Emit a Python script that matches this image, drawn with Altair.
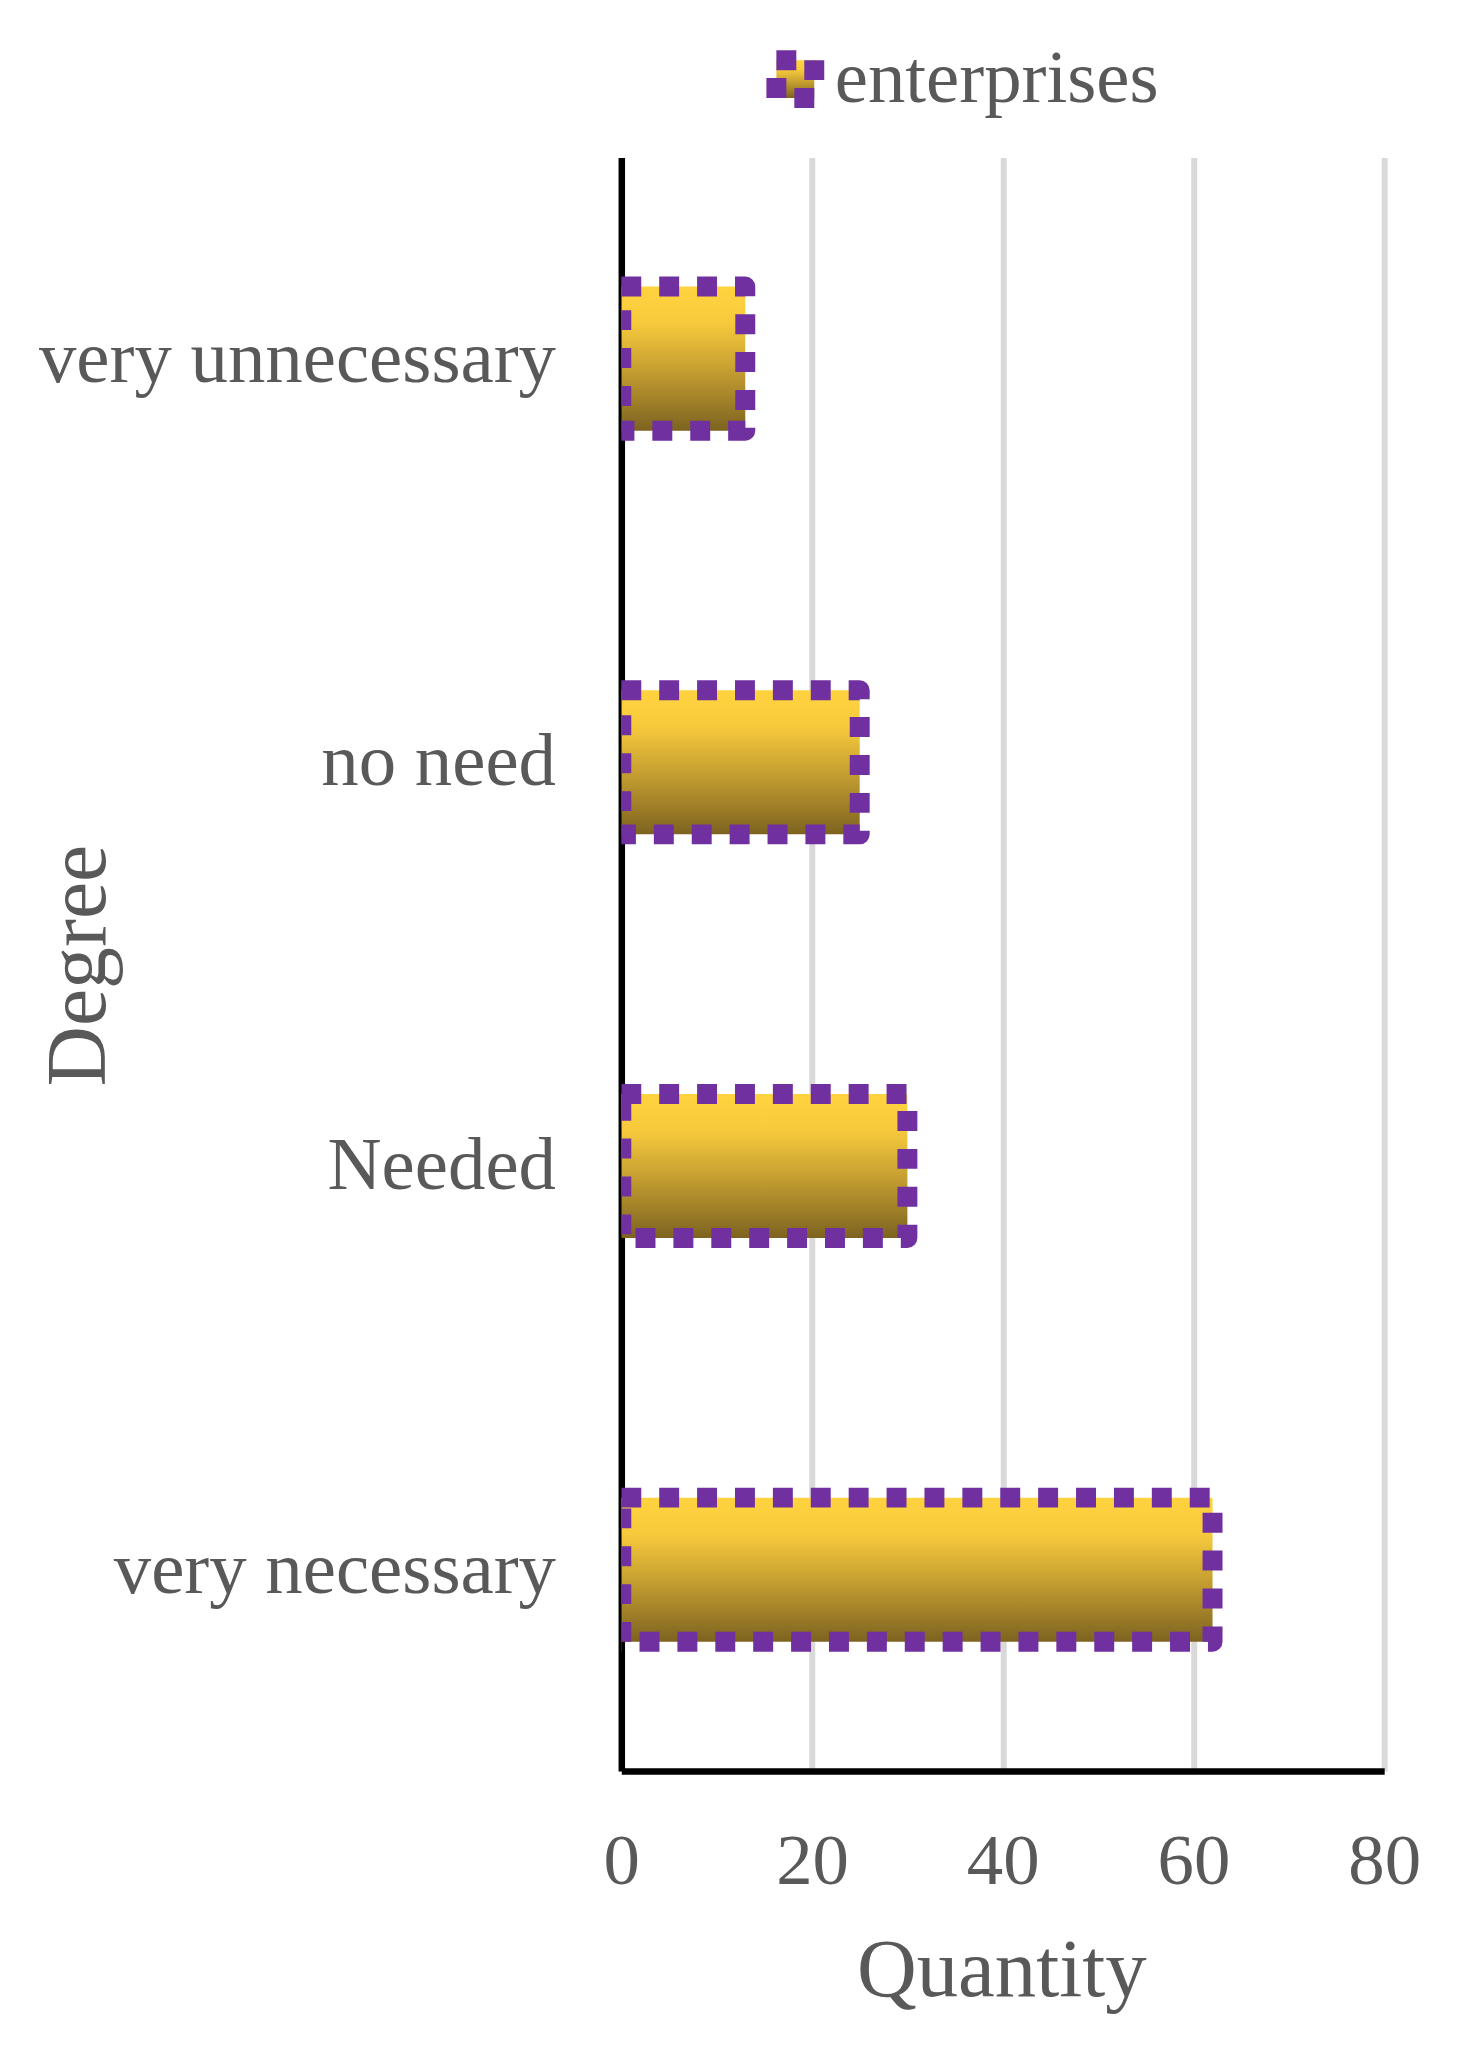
import altair as alt
import pandas as pd

categories = ["very unnecessary", "no need", "Needed", "very necessary"]
values = [13, 25, 30, 62]
series_name = "enterprises"
x_ticks = [0, 20, 40, 60, 80]

df = pd.DataFrame({
    "Degree": categories,
    "Quantity": values,
    "series": [series_name] * len(categories),
})

FONT = "Liberation Serif"
TXT = "#595959"
PURPLE = "#7030A0"

grad = alt.LinearGradient(
    gradient="linear",
    stops=[
        alt.GradientStop(color="#FFD33F", offset=0),
        alt.GradientStop(color="#F7CA3C", offset=0.25),
        alt.GradientStop(color="#C29C30", offset=0.6),
        alt.GradientStop(color="#7D6320", offset=1),
    ],
    x1=0, x2=0, y1=0, y2=1,
)

legend_fill = alt.ExprRef(
    expr="{gradient:'linear', x1:0, y1:0, x2:0, y2:1, stops:[{offset:0,color:'#FFD33F'},{offset:0.3,color:'#F2C63B'},{offset:1,color:'#7D6320'}]}"
)

chart = alt.Chart(df).mark_bar(
    fill=grad,
    strokeWidth=20,
    strokeDash=[20, 18],
    strokeJoin="round",
    clip=True,
).encode(
    y=alt.Y(
        "Degree:N",
        sort=categories,
        scale=alt.Scale(paddingInner=0.643, paddingOuter=0.32),
        axis=alt.Axis(
            title="Degree",
            ticks=False,
            grid=False,
            domain=True,
            domainColor="black",
            domainWidth=6.5,
            labelFont=FONT,
            labelFontSize=75,
            labelColor=TXT,
            labelPadding=66,
            labelLimit=0,
            titleFont=FONT,
            titleFontSize=84,
            titleColor=TXT,
            titleFontWeight="normal",
            titleAngle=-90,
            titleAlign="center",
            titleBaseline="middle",
            titleX=-543,
            titleY=810,
        ),
    ),
    x=alt.X(
        "Quantity:Q",
        scale=alt.Scale(domain=[0, 80], nice=False),
        axis=alt.Axis(
            title="Quantity",
            values=x_ticks,
            ticks=False,
            grid=True,
            gridColor="#D9D9D9",
            gridWidth=6,
            domain=True,
            domainColor="black",
            domainWidth=6.5,
            labelFont=FONT,
            labelFontSize=73,
            labelColor=TXT,
            labelPadding=55,
            labelFlush=False,
            titleFont=FONT,
            titleFontSize=83,
            titleColor=TXT,
            titleFontWeight="normal",
            titleAlign="center",
            titleBaseline="alphabetic",
            titleX=381,
            titleY=225,
        ),
    ),
    stroke=alt.Stroke(
        "series:N",
        scale=alt.Scale(range=[PURPLE]),
        legend=alt.Legend(
            title=None,
            orient="none",
            legendX=137,
            legendY=-116,
            symbolType="square",
            symbolSize=1444,
            symbolStrokeWidth=20,
            symbolDash=[20, 18],
            symbolFillColor=legend_fill,
            symbolStrokeColor=PURPLE,
            labelFont=FONT,
            labelFontSize=75,
            labelColor=TXT,
            labelOffset=2,
            labelLimit=0,
        ),
    ),
).properties(
    width=765,
    height=1618,
    autosize=alt.AutoSizeParams(type="none"),
    padding={"left": 615, "top": 147, "right": 70, "bottom": 262},
    background="white",
).configure_view(stroke=None)

chart.save("out.html", embed_options={"renderer": "svg", "actions": False})
